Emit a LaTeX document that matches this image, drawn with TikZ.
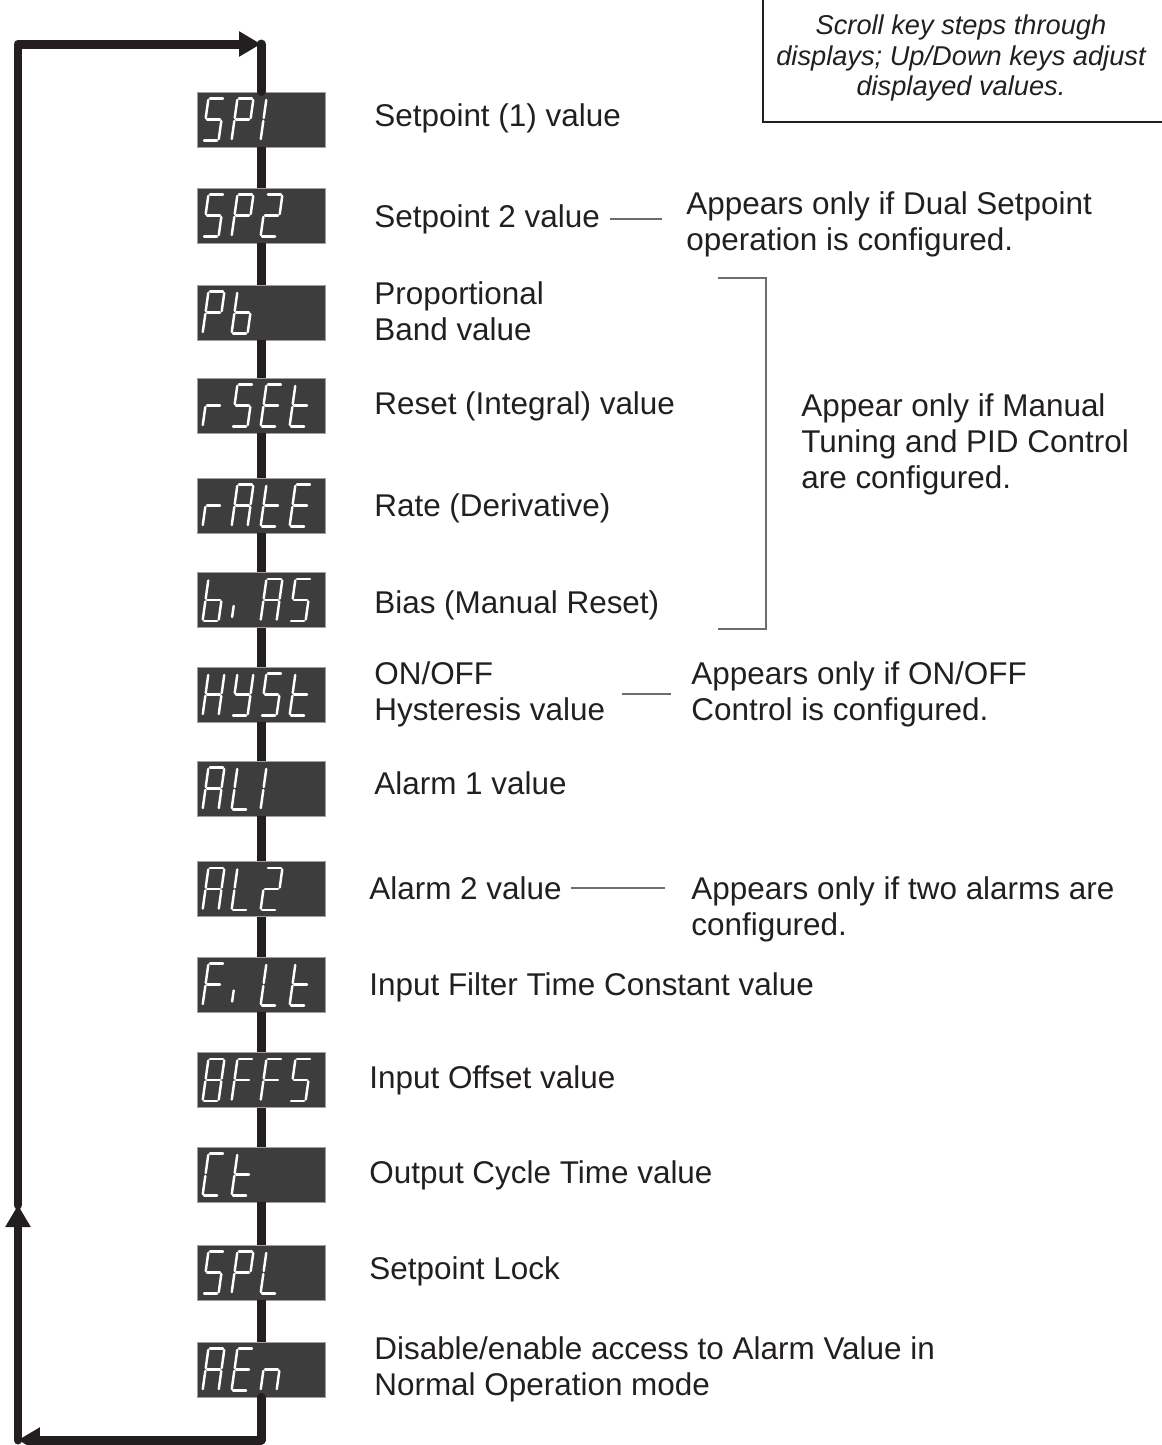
\documentclass[tikz,border=0pt]{standalone}
\usepackage{fontspec}
\setmainfont{Liberation Sans}
\usepackage{tikz}
\usetikzlibrary{calc, arrows.meta, positioning}

\definecolor{flowblack}{HTML}{231F20}
\definecolor{dispgray}{HTML}{3D3D3D}
\definecolor{notegray}{HTML}{6E6E6E}

% seven-segment glyphs: list of lit segments
\newcommand{\defglyph}[2]{\expandafter\def\csname glyph#1\endcsname{#2}}
\defglyph{S}{a,f,g,c,d}
\defglyph{P}{a,b,f,g,e}
\defglyph{1}{e,f}
\defglyph{2}{a,b,g,e,d}
\defglyph{8}{a,b,c,d,e,f,g}
\defglyph{b}{f,e,d,c,g}
\defglyph{r}{e,g}
\defglyph{E}{a,f,g,e,d}
\defglyph{t}{f,e,g,d}
\defglyph{A}{a,b,c,e,f,g}
\defglyph{i}{i}
\defglyph{H}{b,c,e,f,g}
\defglyph{Y}{b,c,d,f,g}
\defglyph{L}{f,e,d}
\defglyph{F}{a,f,g,e}
\defglyph{C}{a,f,e,d}
\defglyph{n}{e,g,c}

% draws the characters of a display node: slot/glyph pairs
\newcommand{\showdisp}[2]{%
  \foreach \slot/\gl in {#2}{%
    \begin{scope}[shift={($(#1.west)+(6+29*\slot,21)$)}, xslant=0.14]
      \coordinate (sa1) at (1.5,-42); \coordinate (sa2) at (14.5,-42);
      \coordinate (sb1) at (16,-40.5); \coordinate (sb2) at (16,-22.5);
      \coordinate (sc1) at (16,-19.5); \coordinate (sc2) at (16,-1.5);
      \coordinate (sd1) at (1.5,0);    \coordinate (sd2) at (14.5,0);
      \coordinate (se1) at (0,-19.5);  \coordinate (se2) at (0,-1.5);
      \coordinate (sf1) at (0,-40.5);  \coordinate (sf2) at (0,-22.5);
      \coordinate (sg1) at (1.5,-21);  \coordinate (sg2) at (14.5,-21);
      \coordinate (si1) at (0,-15);    \coordinate (si2) at (0,-4);
      \edef\seglist{\csname glyph\gl\endcsname}
      \foreach \sg in \seglist {\draw[segline] (s\sg1) -- (s\sg2);}
    \end{scope}}}

\begin{document}
\begin{tikzpicture}[x=0.02cm, y=-0.02cm,
    disp/.style={fill=dispgray, draw=gray!75, line width=0.5pt,
      minimum width=2.56cm, minimum height=1.1cm, inner sep=0pt},
    segline/.style={white, line width=1.4pt, line cap=round},
    flowline/.style={flowblack, line width=0.18cm},
    loopline/.style={flowblack, line width=0.18cm, line cap=round, line join=round},
    tip/.style={-{Triangle[length=0.44cm, width=0.48cm]}},
    lbl/.style={anchor=north west, inner sep=0pt, align=left, text=flowblack,
      font=\fontsize{17.9}{20.5}\selectfont},
    noteline/.style={notegray, line width=0.03cm},
    keybox/.style={inner sep=0pt, align=center, text=flowblack,
      font=\fontsize{15.5}{17.5}\selectfont\itshape}]

    \useasboundingbox (0,0) rectangle (1162,1445);

    % =================================================================
    % DISPLAYS
    % =================================================================
    \node[disp] (sp1)  at (261,119.5)  {};
    \node[disp] (sp2)  at (261,215.5)  {};
    \node[disp] (pb)   at (261,312.5)  {};
    \node[disp] (rset) at (261,405.5)  {};
    \node[disp] (rate) at (261,505.5)  {};
    \node[disp] (bias) at (261,600)    {};
    \node[disp] (hyst) at (261,694.5)  {};
    \node[disp] (al1)  at (261,788.5)  {};
    \node[disp] (al2)  at (261,889)    {};
    \node[disp] (filt) at (261,984.5)  {};
    \node[disp] (offs) at (261,1080)   {};
    \node[disp] (ct)   at (261,1174.5) {};
    \node[disp] (spl)  at (261,1272.5) {};
    \node[disp] (aen)  at (261,1369.5) {};

    \showdisp{sp1}{0/S,1/P,2/1}
    \showdisp{sp2}{0/S,1/P,2/2}
    \showdisp{pb}{0/P,1/b}
    \showdisp{rset}{0/r,1/S,2/E,3/t}
    \showdisp{rate}{0/r,1/A,2/t,3/E}
    \showdisp{bias}{0/b,1/i,2/A,3/S}
    \showdisp{hyst}{0/H,1/Y,2/S,3/t}
    \showdisp{al1}{0/A,1/L,2/1}
    \showdisp{al2}{0/A,1/L,2/2}
    \showdisp{filt}{0/F,1/i,2/L,3/t}
    \showdisp{offs}{0/8,1/F,2/F,3/S}
    \showdisp{ct}{0/C,1/t}
    \showdisp{spl}{0/S,1/P,2/L}
    \showdisp{aen}{0/A,1/E,2/n}

    % scroll sequence
    \foreach \a/\b in {sp1/sp2, sp2/pb, pb/rset, rset/rate, rate/bias, bias/hyst,
      hyst/al1, al1/al2, al2/filt, filt/offs, offs/ct, ct/spl, spl/aen}
      \draw[flowline] (\a) -- (\b);

    % return loop
    \coordinate (tl)  at (18,44);
    \coordinate (tr)  at (261,44);
    \coordinate (bl)  at (18,1440);
    \coordinate (br)  at (261,1440);
    \coordinate (lup) at (18,1205);
    \draw[loopline, tip] (aen) -- (br) -- (bl);
    \draw[loopline, tip] (bl) -- (lup);
    \draw[loopline, tip] (lup) -- (tl) -- (tr);
    \draw[loopline] (tr) -- (sp1);

    % =================================================================
    % LABELS
    % =================================================================
    \node[lbl] (lsp1)  at (374,103)  {Setpoint (1) value};
    \node[lbl] (lsp2)  at (374,204)  {Setpoint 2 value};
    \node[lbl] (lpb)   at (374,281)  {Proportional\\Band value};
    \node[lbl] (lrset) at (374,391)  {Reset (Integral) value};
    \node[lbl] (lrate) at (374,493)  {Rate (Derivative)};
    \node[lbl] (lbias) at (374,590)  {Bias (Manual Reset)};
    \node[lbl] (lhyst) at (374,661)  {ON/OFF\\Hysteresis value};
    \node[lbl] (lal1)  at (374,771)  {Alarm 1 value};
    \node[lbl] (lal2)  at (369,876)  {Alarm 2 value};
    \node[lbl] (lfilt) at (369,972)  {Input Filter Time Constant value};
    \node[lbl] (loffs) at (369,1065) {Input Offset value};
    \node[lbl] (lct)   at (369,1160) {Output Cycle Time value};
    \node[lbl] (lspl)  at (369,1256) {Setpoint Lock};
    \node[lbl] (laen)  at (374,1336) {Disable/enable access to Alarm Value in\\Normal Operation mode};

    % conditions
    \node[lbl] (nsp2)  at (686,191) {Appears only if Dual Setpoint\\operation is configured.};
    \node[lbl] (ntune) at (801,393) {Appear only if Manual\\Tuning and PID Control\\are configured.};
    \node[lbl] (nhyst) at (691,661) {Appears only if ON/OFF\\Control is configured.};
    \node[lbl] (nal2)  at (691,876) {Appears only if two alarms are\\configured.};

    \draw[noteline, shorten <=0.2cm, shorten >=0.48cm] (lsp2.east) -- (lsp2.east -| nsp2.west);
    \draw[noteline, shorten <=0.34cm, shorten >=0.4cm] (lhyst.east) -- (lhyst.east -| nhyst.west);
    \draw[noteline, shorten <=0.18cm, shorten >=0.52cm] (lal2.east) -- (lal2.east -| nal2.west);

    % bracket for the PID values
    \coordinate (brtop) at (718,278);
    \coordinate (brbot) at (718,629);
    \draw[noteline] (brtop) -- ++(48,0) |- (brbot);

    % key note, top right
    \draw[flowblack, line width=0.05cm] (763,-10) rectangle (1180,122);
    \node[keybox] (keynote) at (961,58) {Scroll key steps through\\displays; Up/Down keys adjust\\displayed values.};

\end{tikzpicture}
\end{document}
